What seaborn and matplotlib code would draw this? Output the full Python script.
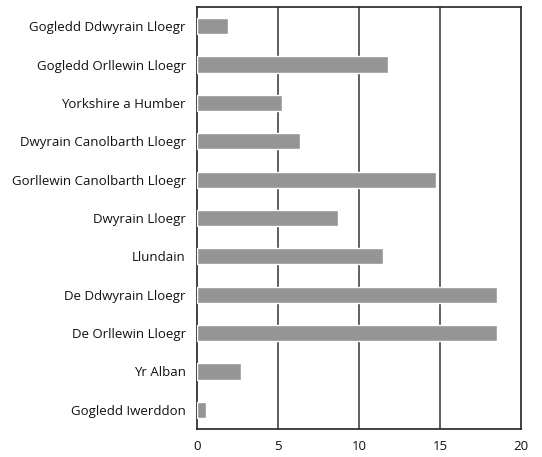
import matplotlib
matplotlib.use("Agg")
import matplotlib.pyplot as plt
import seaborn as sns
import pandas as pd

# --- data ---
regions = [
    "Gogledd Ddwyrain Lloegr",
    "Gogledd Orllewin Lloegr",
    "Yorkshire a Humber",
    "Dwyrain Canolbarth Lloegr",
    "Gorllewin Canolbarth Lloegr",
    "Dwyrain Lloegr",
    "Llundain",
    "De Ddwyrain Lloegr",
    "De Orllewin Lloegr",
    "Yr Alban",
    "Gogledd Iwerddon",
]
values = [1.9, 11.8, 5.25, 6.35, 14.75, 8.7, 11.5, 18.5, 18.5, 2.7, 0.55]
x_ticks = [0, 5, 10, 15, 20]

df = pd.DataFrame({"region": regions, "value": values})

sns.set_style("white")
plt.rcParams["font.family"] = ["Open Sans", "DejaVu Sans"]

fig = plt.figure(figsize=(5.42, 4.57), dpi=100)
ax = fig.add_axes([197 / 542, 1 - 429 / 457, 324 / 542, 422 / 457])

sns.barplot(data=df, x="value", y="region", color="#959595", saturation=1,
            width=0.42, ax=ax, zorder=3)

ax.set_xlim(0, 20)
ax.set_ylim(10.5, -0.5)
ax.set_xticks(x_ticks)
for v in x_ticks[1:-1]:
    ax.axvline(v, color="#444444", lw=1.2, zorder=1)

ax.set_xlabel("")
ax.set_ylabel("")
ax.tick_params(axis="both", length=0, labelsize=9.5, colors="#111111")
ax.tick_params(axis="y", pad=8)
ax.tick_params(axis="x", pad=8)
for s in ax.spines.values():
    s.set_visible(True)
    s.set_color("#222222")
    s.set_linewidth(1.2)

fig.savefig("out.png", dpi=100)
